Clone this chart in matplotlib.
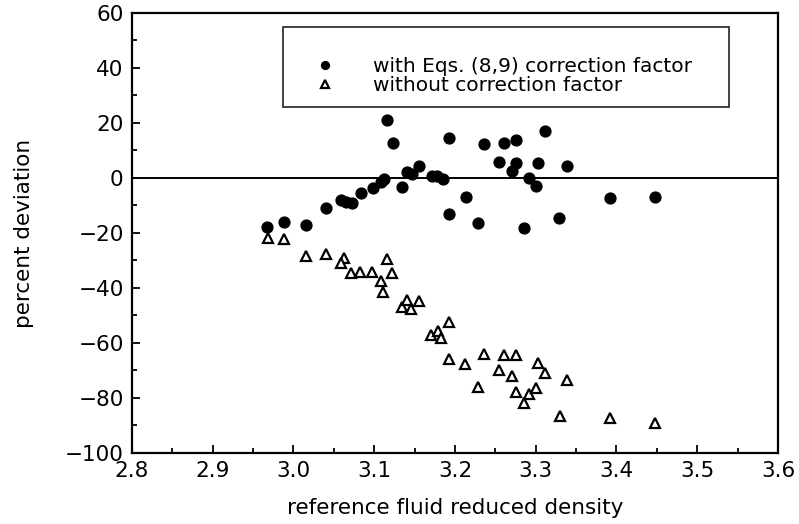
import numpy as np
import matplotlib
matplotlib.use("Agg")
import matplotlib.pyplot as plt
from matplotlib.ticker import MultipleLocator

plt.rcParams['font.family'] = ['DejaVu Sans']

#### data

# with Eqs. (8,9) correction factor
dens_corr = [2.967, 2.988, 3.015, 3.040, 3.059, 3.065, 3.072, 3.083, 3.098, 3.108,
             3.112, 3.116, 3.123, 3.134, 3.141, 3.147, 3.156, 3.171, 3.178, 3.185,
             3.193, 3.193, 3.214, 3.228, 3.236, 3.254, 3.261, 3.270, 3.275, 3.275,
             3.286, 3.292, 3.300, 3.303, 3.311, 3.329, 3.339, 3.392, 3.448]
dev_corr = [-17.7, -15.9, -17.1, -11.0, -8.0, -8.6, -9.2, -5.6, -3.7, -1.3,
            -0.5, 21.1, 12.6, -3.4, 2.3, 1.5, 4.4, 0.7, 0.7, -0.4,
            14.4, -13.1, -7.0, -16.5, 12.4, 5.8, 12.8, 2.7, 13.8, 5.6,
            -18.1, 0.1, -2.8, 5.3, 17.1, -14.7, 4.4, -7.4, -6.8]

# without correction factor
dens_nocorr = [2.968, 2.988, 3.015, 3.040, 3.063, 3.059, 3.071, 3.082, 3.097, 3.116,
               3.122, 3.108, 3.111, 3.134, 3.141, 3.146, 3.156, 3.170, 3.179, 3.183,
               3.193, 3.193, 3.213, 3.228, 3.236, 3.254, 3.261, 3.275, 3.275, 3.270,
               3.286, 3.292, 3.300, 3.303, 3.311, 3.330, 3.339, 3.392, 3.448]
dev_nocorr = [-21.9, -22.2, -28.4, -27.8, -29.2, -30.8, -34.4, -34.3, -34.3, -29.5,
              -34.7, -37.5, -41.6, -47.0, -44.4, -47.6, -44.6, -57.1, -55.5, -58.2,
              -52.2, -65.9, -67.8, -76.1, -64.0, -69.8, -64.4, -77.7, -64.4, -71.9,
              -81.7, -78.7, -76.3, -67.2, -71.0, -86.5, -73.5, -87.4, -89.0]

label_corr = "with Eqs. (8,9) correction factor"
label_nocorr = "without correction factor"

fig = plt.figure(figsize=(7.99, 5.24), dpi=100)
ax = fig.add_axes([0.1652, 0.1355, 0.8085, 0.8397])

ax.axhline(0, color='black', lw=1.4, zorder=1)

ax.plot(dens_corr, dev_corr, 'o', color='black', ms=7.8, ls='none',
        label=label_corr, zorder=3)
ax.plot(dens_nocorr, dev_nocorr, '^', mfc='white', mec='black', mew=1.6,
        ms=7.5, ls='none', label=label_nocorr, zorder=3)

ax.set_xlim(2.8, 3.6)
ax.set_ylim(-100, 60)
ax.xaxis.set_major_locator(MultipleLocator(0.1))
ax.xaxis.set_minor_locator(MultipleLocator(0.05))
ax.yaxis.set_major_locator(MultipleLocator(20))
ax.yaxis.set_minor_locator(MultipleLocator(10))
ax.xaxis.set_major_formatter(matplotlib.ticker.FormatStrFormatter('%.1f'))
ax.tick_params(which='both', direction='in', top=False, right=False,
               labelsize=15.5, width=1.3, pad=6)
ax.tick_params(which='major', length=6)
ax.tick_params(which='minor', length=3.5)
for sp in ax.spines.values():
    sp.set_linewidth(1.6)

ax.set_xlabel("reference fluid reduced density", fontsize=15.5, labelpad=12)
ax.set_ylabel("percent deviation", fontsize=15.5, labelpad=22)

# blank title pushes the entries toward the lower part of the box
leg = ax.legend(loc='upper left', bbox_to_anchor=(0.233, 0.786, 0.691, 0.182),
                mode='expand', fontsize=14.5, markerscale=0.72, frameon=True,
                fancybox=False, borderpad=0.6, handletextpad=0.9,
                labelspacing=0.0, borderaxespad=0, handlelength=3.0,
                title=" ", title_fontsize=12)
leg.get_frame().set_edgecolor('black')
leg.get_frame().set_linewidth(1.3)

fig.savefig("out.png", dpi=100)
